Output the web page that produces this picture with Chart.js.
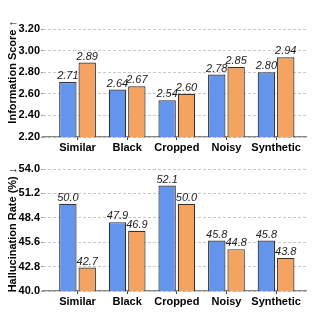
<!DOCTYPE html>
<html>
<head>
<meta charset="utf-8">
<script src="https://cdn.jsdelivr.net/npm/chart.js@4.4.0/dist/chart.umd.min.js"></script>
<style>
  html, body { margin: 0; padding: 0; background: #fff; }
  .box { position: absolute; left: 0; width: 314px; height: 157px; }
</style>
</head>
<body>
<div class="box" style="top:0"><canvas id="infoChart"></canvas></div>
<div class="box" style="top:157px"><canvas id="rateChart"></canvas></div>
<script>
// categories and series
const categories = ["Similar", "Black", "Cropped", "Noisy", "Synthetic"];
const infoBlue = [2.71, 2.64, 2.54, 2.78, 2.80];
const infoOrange = [2.89, 2.67, 2.60, 2.85, 2.94];
const rateBlue = [50.0, 47.9, 52.1, 45.8, 45.8];
const rateOrange = [42.7, 46.9, 50.0, 44.8, 43.8];

// y ticks (every other one gets a label)
const infoTicks = [2.2, 2.3, 2.4, 2.5, 2.6, 2.7, 2.8, 2.9, 3.0, 3.1, 3.2];
const rateTicks = [40, 41.4, 42.8, 44.2, 45.6, 47, 48.4, 49.8, 51.2, 52.6, 54];

const FONT = "'Liberation Sans', Arial, sans-serif";
const BLUE = "#6495ed";
const ORANGE = "#f4a460";

// draws the italic value above every bar
const valueLabels = {
  id: "valueLabels",
  afterDatasetsDraw(chart, args, opts) {
    const ctx = chart.ctx;
    ctx.save();
    ctx.font = "italic 11px " + FONT;
    ctx.fillStyle = "#222";
    ctx.textAlign = "center";
    ctx.textBaseline = "bottom";
    chart.data.datasets.forEach((ds, di) => {
      chart.getDatasetMeta(di).data.forEach((bar, i) => {
        ctx.fillText(ds.data[i].y.toFixed(opts.digits), bar.x, bar.y - 0.5);
      });
    });
    ctx.restore();
  }
};

function makeChart(id, blue, orange, yTicks, yMax, digits, title, padTop, xHeight) {
  const pts = (arr) => arr.map((v, i) => ({ x: i, y: v }));
  return new Chart(document.getElementById(id), {
    type: "bar",
    data: {
      datasets: [
        { data: pts(blue), backgroundColor: BLUE, borderColor: "#333", borderWidth: 1.2, borderSkipped: false },
        { data: pts(orange), backgroundColor: ORANGE, borderColor: "#333", borderWidth: 1.2, borderSkipped: false },
      ],
    },
    options: {
      responsive: true,
      maintainAspectRatio: false,
      animation: false,
      categoryPercentage: 0.78,
      barPercentage: 0.9,
      layout: { padding: { top: padTop, right: 8, left: 0, bottom: 0 } },
      plugins: { legend: { display: false }, tooltip: { enabled: false }, valueLabels: { digits: digits } },
      scales: {
        x: {
          type: "linear",
          offset: false,
          min: -0.696,
          max: 4.603,
          afterBuildTicks: (s) => { s.ticks = categories.map((c, i) => ({ value: i })); },
          afterFit: (s) => { s.height = xHeight; },
          grid: { display: true, offset: false, drawOnChartArea: false, tickLength: 3, tickColor: "#444", tickWidth: 1 },
          border: { display: true, color: "#888", width: 1.2 },
          ticks: {
            autoSkip: false, maxRotation: 0, padding: 1, color: "#000",
            font: { family: FONT, size: 11, weight: "bold" },
            callback: (v) => categories[v],
          },
        },
        y: {
          min: yTicks[0],
          max: yMax,
          afterBuildTicks: (s) => { s.ticks = yTicks.map((v) => ({ value: v })); },
          afterFit: (s) => { s.width = 43; },
          grid: {
            color: "#bbb", lineWidth: 0.8, tickLength: 2,
            tickColor: (c) => (c.index % 2 === 0 ? "#777" : "rgba(0,0,0,0)"),
          },
          border: { display: false, dash: [3, 2] },
          ticks: {
            padding: 1, color: "#000",
            font: { family: FONT, size: 11, weight: "bold" },
            callback: (v, i) => (i % 2 === 0 ? yTicks[i].toFixed(digits) : ""),
          },
          title: {
            display: true, text: title, color: "#000",
            padding: { top: 6, bottom: 0 },
            font: { family: FONT, size: 11, weight: "bold" },
          },
        },
      },
    },
    plugins: [valueLabels],
  });
}

makeChart("infoChart", infoBlue, infoOrange, infoTicks, 3.4, 2, "Information Score \u2191", 7, 20);
makeChart("rateChart", rateBlue, rateOrange, rateTicks, 54, 1, "Hallucination Rate (%) \u2193", 12, 23);
</script>
</body>
</html>
